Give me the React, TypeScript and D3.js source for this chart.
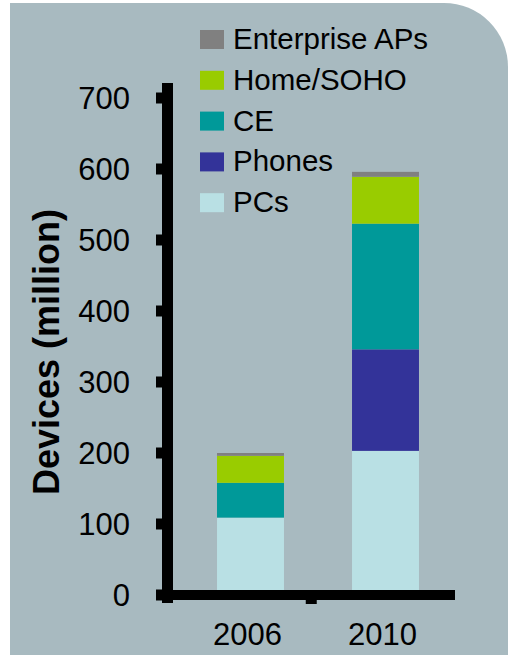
import * as React from "react";
import * as d3 from "d3";

const years = ["2006", "2010"];
const seriesNames = ["PCs", "Phones", "CE", "Home/SOHO", "Enterprise APs"];
const pcs = [109, 203];
const phones = [0, 143];
const ce = [49, 177];
const home = [38, 66];
const enterprise = [4, 7];
const yTicks = [0, 100, 200, 300, 400, 500, 600, 700];

const COLORS: Record<string, string> = {
  PCs: "#b9e0e4",
  Phones: "#333399",
  CE: "#009999",
  "Home/SOHO": "#99cc00",
  "Enterprise APs": "#808080",
};

const W = 508;
const H = 655;
const FONT = "'Liberation Sans', Arial, sans-serif";

export default function App() {
  React.useEffect(() => {
    document.body.style.margin = "0";
  }, []);

  const rows = years.map((year, i) => ({
    year,
    PCs: pcs[i],
    Phones: phones[i],
    CE: ce[i],
    "Home/SOHO": home[i],
    "Enterprise APs": enterprise[i],
  }));
  const stacked = d3.stack<any>().keys(seriesNames)(rows);

  const y = d3.scaleLinear().domain([0, 700]).range([595, 98]);
  const x = d3
    .scaleBand<string>()
    .domain(years)
    .range([183, 453])
    .paddingInner(0.504)
    .paddingOuter(0.252);

  const axisX = 167.5;
  const axisRight = 455;
  const legendKeys = [...seriesNames].reverse();

  // panel with a rounded top-right corner
  const r = 64;
  const bg = `M10,3 H${W - r} A${r},${r} 0 0 1 ${W},${3 + r} V${H} H10 Z`;

  return (
    <svg width={W} height={H} style={{ display: "block", fontFamily: FONT }}>
      <rect width={W} height={H} fill="#ffffff" />
      <path d={bg} fill="#a8bac0" />

      {/* Bars */}
      {stacked.map((s) => (
        <g key={s.key} fill={COLORS[s.key]}>
          {s.map((d, i) => {
            const h = y(d[0]) - y(d[1]);
            if (h <= 0) return null;
            return (
              <rect
                key={i}
                x={x(years[i])}
                y={y(d[1])}
                width={x.bandwidth()}
                height={h}
              />
            );
          })}
        </g>
      ))}

      {/* Y axis */}
      <line x1={axisX} x2={axisX} y1={83} y2={603} stroke="#000" strokeWidth={11} />
      {yTicks.map((t) => (
        <g key={t}>
          <line x1={156} x2={axisX} y1={y(t)} y2={y(t)} stroke="#000" strokeWidth={11} />
          <text
            x={130}
            y={y(t)}
            dy="0.36em"
            textAnchor="end"
            fontSize={31}
            fill="#000"
          >
            {t}
          </text>
        </g>
      ))}

      {/* X axis */}
      <line x1={axisX} x2={axisRight} y1={y(0)} y2={y(0)} stroke="#000" strokeWidth={10} />
      <line
        x1={(axisX + axisRight) / 2}
        x2={(axisX + axisRight) / 2}
        y1={y(0)}
        y2={604}
        stroke="#000"
        strokeWidth={11}
      />
      {years.map((yr) => (
        <text
          key={yr}
          x={(x(yr) ?? 0) + x.bandwidth() / 2 - 3}
          y={645}
          textAnchor="middle"
          fontSize={31}
          fill="#000"
        >
          {yr}
        </text>
      ))}

      {/* Y title */}
      <text
        transform={`translate(59,352) rotate(-90)`}
        textAnchor="middle"
        fontSize={36}
        fontWeight="bold"
        fill="#000"
      >
        Devices (million)
      </text>

      {/* Legend */}
      {legendKeys.map((k, i) => {
        const top = 30 + i * 40.8;
        return (
          <g key={k}>
            <rect x={200} y={top} width={24} height={19} fill={COLORS[k]} />
            <text x={233} y={top + 19} fontSize={29.5} fill="#000">
              {k}
            </text>
          </g>
        );
      })}
    </svg>
  );
}
